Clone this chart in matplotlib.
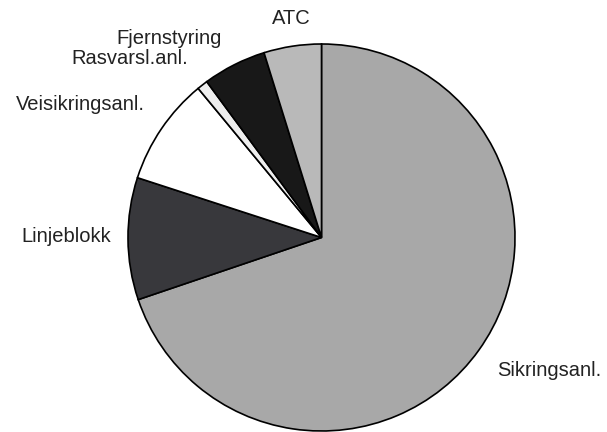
import matplotlib
matplotlib.use("Agg")
import matplotlib.pyplot as plt

labels = ["Sikringsanl.", "Linjeblokk", "Veisikringsanl.", "Rasvarsl.anl.", "Fjernstyring", "ATC"]
values = [69.8, 10.2, 9.0, 0.9, 5.3, 4.8]
colors = ["#a8a8a8", "#38383c", "#ffffff", "#eeeeee", "#181818", "#b9b9b9"]

# label centres in pixels (x from left, y from top)
label_px = [(549, 370), (66, 236), (80, 105), (130, 58), (169, 39), (291, 18)]

W, H = 607, 432
fig = plt.figure(figsize=(W / 100, H / 100), dpi=100)
cx, cy, r = 321.5, 237.5, 193.5
ax = fig.add_axes([(cx - r) / W, (H - cy - r) / H, 2 * r / W, 2 * r / H])

ax.pie(values, colors=colors, startangle=90, counterclock=False, radius=1,
       wedgeprops=dict(edgecolor="black", linewidth=1.2))
ax.set_xlim(-1, 1)
ax.set_ylim(-1, 1)
ax.axis("off")

for lab, (px, py) in zip(labels, label_px):
    fig.text(px / W, 1 - py / H, lab, ha="center", va="center",
             fontsize=14.5, family="Liberation Sans", color="#222222")

fig.savefig("out.png", dpi=100)
